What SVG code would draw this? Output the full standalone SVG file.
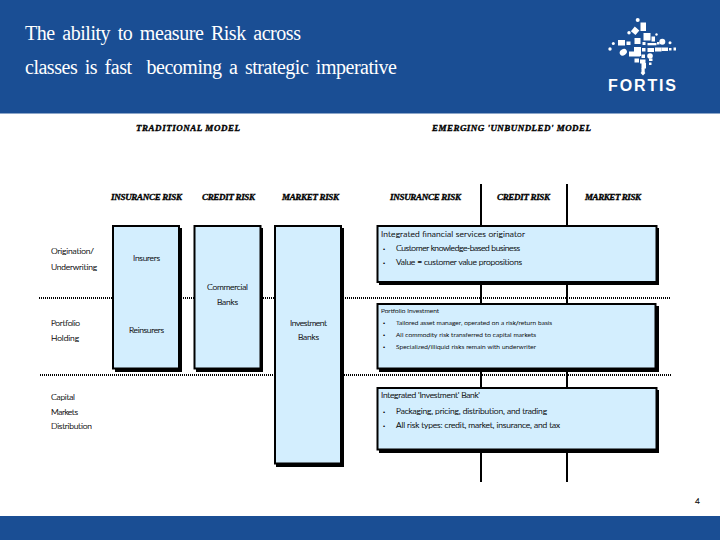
<svg xmlns="http://www.w3.org/2000/svg" width="720" height="540" viewBox="0 0 720 540">
<style>
text{fill:#000}
.title{font:20px "Liberation Serif",serif;fill:#fff;word-spacing:3px;white-space:pre}
.h{font:italic bold 9px "Liberation Serif",serif;stroke:#000;stroke-width:.35}
.b{font:300 8.5px "Lato","Liberation Sans",sans-serif;stroke:#000;stroke-width:.2}
.s{font:300 6.5px "Lato","Liberation Sans",sans-serif;stroke:#000;stroke-width:.15}
.bl{font:6px "Liberation Sans",sans-serif}
.box{fill:#d3eefe;stroke:#000;stroke-width:2}
.sh{fill:#000}
.dot{stroke:#000;stroke-width:2;stroke-dasharray:1 1;fill:none}
.v{stroke:#000;stroke-width:2;fill:none}
.band{fill:#1a4e94}
.lg{fill:#fff}
</style>
<rect width="720" height="540" fill="#fff"/>
<rect id="header" class="band" width="720" height="113.5"/>
<rect id="footer" class="band" y="516" width="720" height="24"/>
<text class="title" x="25" y="40" textLength="276">The ability to measure Risk across</text>
<text class="title" x="25" y="74" textLength="372">classes is fast  becoming a strategic imperative</text>
<g id="logo" class="lg">
<circle cx="637.7" cy="20" r="2"/><rect x="640.5" y="22.500" width="5.500" height="8.500"/>
<rect x="632" y="27.800" width="6" height="6" transform="rotate(40 635 31)"/><circle cx="629" cy="32.700" r="1.700"/>
<rect x="643.500" y="33" width="7" height="7.500"/><rect x="651.500" y="36.500" width="3.500" height="5"/><circle cx="656.500" cy="34.500" r="1.200"/>
<rect x="634.500" y="38" width="6" height="6"/>
<circle cx="613.300" cy="43.500" r="1.500"/><rect x="618" y="40" width="7" height="5.500"/><rect x="626.500" y="41.500" width="4" height="3.500"/>
<rect x="642.500" y="42" width="3" height="3"/><rect x="647.500" y="43" width="9" height="2.300"/><circle cx="662.300" cy="41.700" r="3"/><circle cx="670" cy="42.700" r="1.500"/><rect x="657" y="42" width="2.500" height="2.500"/>
<circle cx="610" cy="49" r="1.700"/><ellipse cx="623.300" cy="52.300" rx="3.800" ry="3" transform="rotate(-35 623.300 52.300)"/>
<rect x="634" y="47" width="7" height="9"/><rect x="629" y="51.500" width="11" height="5"/><rect x="642" y="48" width="3.500" height="3.500"/>
<rect x="647.500" y="48" width="6.500" height="4"/><rect x="655" y="47.500" width="6.500" height="4"/><rect x="661.500" y="47.500" width="6.500" height="3.500"/><rect x="669" y="48" width="2.500" height="2.500"/><rect x="673.500" y="47.500" width="2.500" height="3"/>
<rect x="634.500" y="58.500" width="4.500" height="4"/><rect x="641.500" y="54.500" width="3.500" height="3.500"/><circle cx="650" cy="56" r="2.800"/><rect x="640" y="59.500" width="5.500" height="4"/><rect x="649" y="58.500" width="3.500" height="2.500"/>
<rect x="641.500" y="63" width="4.500" height="5.500"/><rect x="649" y="62.500" width="2.500" height="2.500"/><rect x="641.500" y="68" width="3.200" height="4.500"/>
<rect x="641.300" y="71.300" width="3.400" height="3.400" transform="rotate(45 643 73)"/>
<text x="608" y="91" textLength="68" style="font:bold 16px 'Liberation Sans',sans-serif;fill:#fff">FORTIS</text>
</g>
<g id="connectors">
<path class="v" d="M481 184V482M567 184V482"/>
<path class="dot" d="M39 298H670M40 375H671"/>
</g>
<g id="traditional-heading">
<text class="h" x="136" y="131" textLength="104">TRADITIONAL MODEL</text>
<text class="h" x="111" y="200" textLength="71">INSURANCE RISK</text>
<text class="h" x="202" y="200" textLength="53">CREDIT RISK</text>
<text class="h" x="282" y="200" textLength="57">MARKET RISK</text>
</g>
<g id="emerging-heading">
<text class="h" x="432" y="131" textLength="159">EMERGING 'UNBUNDLED' MODEL</text>
<text class="h" x="390" y="200" textLength="71">INSURANCE RISK</text>
<text class="h" x="497" y="200" textLength="53">CREDIT RISK</text>
<text class="h" x="585" y="200" textLength="56">MARKET RISK</text>
</g>
<g id="row-labels">
<text class="b" x="51" y="254" textLength="43">Origination/</text>
<text class="b" x="51" y="270" textLength="46">Underwriting</text>
<text class="b" x="51" y="326" textLength="29">Portfolio</text>
<text class="b" x="51" y="341" textLength="28">Holding</text>
<text class="b" x="51" y="400" textLength="24">Capital</text>
<text class="b" x="51" y="415" textLength="27">Markets</text>
<text class="b" x="51" y="429" textLength="41">Distribution</text>
</g>
<g id="node-insurance-column">
<rect class="sh" x="115" y="228" width="67" height="144"/>
<rect class="box" x="113" y="226" width="66" height="142.5"/>
<text class="b" x="133" y="261" textLength="27">Insurers</text>
<text class="b" x="129" y="333" textLength="35">Reinsurers</text>
</g>
<g id="node-commercial-banks">
<rect class="sh" x="196" y="228" width="67" height="144"/>
<rect class="box" x="194.500" y="226" width="66" height="142.5"/>
<text class="b" x="207" y="290" textLength="41">Commercial</text>
<text class="b" x="217" y="305" textLength="21">Banks</text>
</g>
<g id="node-investment-banks">
<rect class="sh" x="276" y="228" width="68" height="239"/>
<rect class="box" x="275" y="226" width="66" height="237.500"/>
<text class="b" x="290" y="326" textLength="37">Investment</text>
<text class="b" x="298" y="340" textLength="21">Banks</text>
</g>
<g id="node-originator">
<rect class="sh" x="379" y="228" width="280" height="57"/>
<rect class="box" x="377.500" y="226" width="279" height="56"/>
<text class="b" x="381" y="237" textLength="144">Integrated financial services originator</text>
<text class="bl" x="383" y="251">•</text>
<text class="b" x="396" y="251" textLength="124">Customer knowledge-based business</text>
<text class="bl" x="383" y="265">•</text>
<text class="b" x="396" y="265" textLength="126">Value = customer value propositions</text>
</g>
<g id="node-portfolio">
<rect class="sh" x="379" y="306" width="280" height="66"/>
<rect class="box" x="377.500" y="304" width="278" height="64.500"/>
<text class="s" x="381" y="313" textLength="58">Portfolio Investment</text>
<text class="bl" x="383" y="325">•</text>
<text class="s" x="396" y="325" textLength="156">Tailored asset manager, operated on a risk/return basis</text>
<text class="bl" x="383" y="337">•</text>
<text class="s" x="396" y="337" textLength="140">All commodity risk transferred to capital markets</text>
<text class="bl" x="383" y="349">•</text>
<text class="s" x="396" y="349" textLength="140">Specialized/illiquid risks remain with underwriter</text>
</g>
<g id="node-investment-bank">
<rect class="sh" x="379" y="390" width="280" height="63"/>
<rect class="box" x="377.500" y="388" width="279" height="61.500"/>
<text class="b" x="381" y="398" textLength="99">Integrated 'Investment' Bank'</text>
<text class="bl" x="383" y="414">•</text>
<text class="b" x="396" y="414" textLength="151">Packaging, pricing, distribution, and trading</text>
<text class="bl" x="383" y="428">•</text>
<text class="b" x="396" y="428" textLength="164">All risk types: credit, market, insurance, and tax</text>
</g>
<text id="page-number" class="b" x="695" y="504">4</text>
</svg>
